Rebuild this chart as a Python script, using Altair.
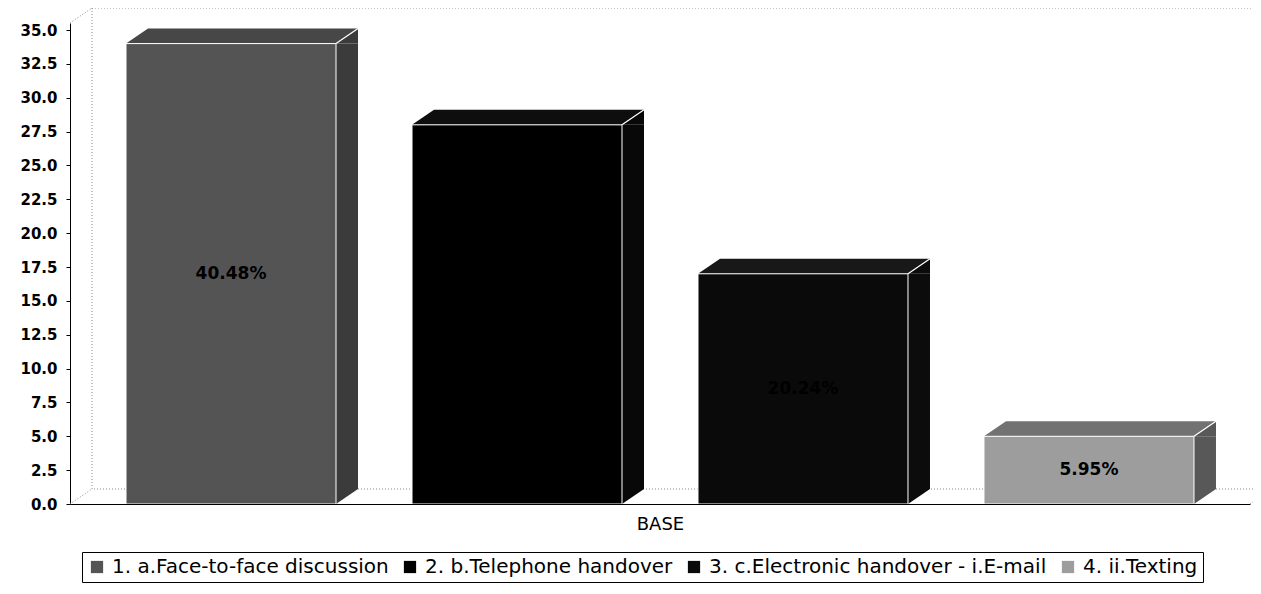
import altair as alt
import pandas as pd

# ---- data ----
series = [
    "1. a.Face-to-face discussion",
    "2. b.Telephone handover",
    "3. c.Electronic handover - i.E-mail",
    "4. ii.Texting",
]
values = [34, 28, 17, 5]
pct_labels = ["40.48%", "33.33%", "20.24%", "5.95%"]
category = "BASE"
y_ticks = [0.0, 2.5, 5.0, 7.5, 10.0, 12.5, 15.0, 17.5, 20.0, 22.5, 25.0, 27.5, 30.0, 32.5, 35.0]

# ---- styles ----
front_colors = ["#545454", "#000000", "#0a0a0a", "#9d9d9d"]
top_colors = ["#474747", "#0e0e0e", "#181818", "#727272"]
side_colors = ["#3b3b3b", "#080808", "#0c0c0c", "#585858"]

W, H = 1180, 481
DX, DY = 22, 15          # 3D depth offset (pixels)
BARW = 210               # front face width (pixels)
PAD_OUTER = 0.063
Y_MAX = 35.52
FONT = "DejaVu Sans"

df = pd.DataFrame({"series": series, "value": values, "label": pct_labels})

x_enc = alt.X(
    "series:N",
    sort=series,
    scale=alt.Scale(paddingInner=0, paddingOuter=PAD_OUTER),
    axis=alt.Axis(
        labels=False, ticks=False, domain=True, domainColor="black", domainWidth=1,
        title=category, titleFont=FONT, titleFontSize=18, titleFontWeight="normal",
        titleColor="black", titlePadding=11, zindex=1,
    ),
)
y_scale = alt.Scale(domain=[0, Y_MAX], nice=False, zero=True)
y_axis = alt.Axis(
    values=y_ticks, format=".1f", labelFont=FONT, labelFontWeight="bold",
    labelFontSize=15, labelColor="black", tickColor="black", tickSize=4,
    labelPadding=9, domainColor="black", grid=False, title=None,
)
y_enc = alt.Y("value:Q", scale=y_scale, axis=y_axis)

base = alt.Chart(df)

# ---- back walls (dotted) ----
one = alt.Data(values=[{"k": 1}])
wall = alt.Chart(one).mark_rect(
    fillOpacity=0, stroke="#8a8a8a", strokeDash=[1, 2], strokeWidth=1,
    xOffset=DX, x2Offset=DX, yOffset=-DY, y2Offset=-DY,
).encode(x=alt.value(0), x2=alt.value(W), y=alt.value(0), y2=alt.value(H))
diag_tl = alt.Chart(one).mark_rule(stroke="#8a8a8a", strokeDash=[1, 2]).encode(
    x=alt.value(0), y=alt.value(0), x2=alt.value(DX), y2=alt.value(-DY))
diag_bl = alt.Chart(one).mark_rule(stroke="#8a8a8a", strokeDash=[1, 2]).encode(
    x=alt.value(0), y=alt.value(H), x2=alt.value(DX), y2=alt.value(H - DY))
diag_br = alt.Chart(one).mark_rule(stroke="#8a8a8a", strokeDash=[1, 2]).encode(
    x=alt.value(W), y=alt.value(H), x2=alt.value(W + DX), y2=alt.value(H - DY))

# ---- 3D side faces ----
side_off = BARW / 2 + DX / 2
ry = (DY / 2) / (DX / 2)
side_fill = alt.Fill("series:N", scale=alt.Scale(domain=series, range=side_colors), legend=None)
top_fill = alt.Fill("series:N", scale=alt.Scale(domain=series, range=top_colors), legend=None)

side_rect = base.mark_bar(width=DX, xOffset=side_off, y2Offset=-DY).encode(
    x=x_enc, y=y_enc, y2=alt.Y2(datum=0), fill=side_fill)

side_top = base.mark_point(
    shape=f"M-1,{ry:.4f} L1,{-ry:.4f} L1,{ry:.4f} Z", size=DX * DX, filled=True,
    opacity=1, xOffset=side_off, yOffset=-DY / 2,
).encode(x=x_enc, y=y_enc, fill=side_fill)

side_bot = base.mark_point(
    shape=f"M-1,{-ry:.4f} L-1,{ry:.4f} L1,{-ry:.4f} Z", size=DX * DX, filled=True,
    opacity=1, xOffset=side_off, yOffset=-DY / 2,
).encode(x=x_enc, y=alt.Y(datum=0, scale=y_scale, axis=y_axis), fill=side_fill)

# ---- 3D top faces (parallelograms) ----
half = (BARW + DX) / 2
a = (BARW / 2 - DX / 2) / half
b = (DY / 2) / half
top_path = f"M-1,{b:.4f} L{a:.4f},{b:.4f} L1,{-b:.4f} L{-a:.4f},{-b:.4f} Z"
top_face = base.mark_point(
    shape=top_path, size=(2 * half) ** 2, filled=True, opacity=1,
    xOffset=DX / 2, yOffset=-DY / 2,
).encode(x=x_enc, y=y_enc, fill=top_fill)

# ---- front faces ----
front = base.mark_bar(width=BARW, stroke="white", strokeWidth=1).encode(
    x=x_enc, y=y_enc, y2=alt.Y2(datum=0),
    color=alt.Color(
        "series:N",
        scale=alt.Scale(domain=series, range=front_colors),
        legend=alt.Legend(
            orient="none", legendX=12, legendY=529, direction="horizontal", columns=4,
            title=None, symbolType="square", symbolSize=150, symbolStrokeWidth=0,
            labelFont=FONT, labelFontSize=20, labelColor="black", labelLimit=0,
            strokeColor="black", fillColor="white", padding=5, columnPadding=11,
            labelOffset=5,
        ),
    ),
)

edge = base.mark_point(
    shape=f"M-1,{ry:.4f} L1,{-ry:.4f}", size=DX * DX, filled=False, opacity=1,
    stroke="white", strokeWidth=1.2, xOffset=side_off, yOffset=-DY / 2,
).encode(x=x_enc, y=y_enc)

labels = base.transform_calculate(mid="datum.value / 2").mark_text(
    font=FONT, fontWeight="bold", fontSize=17, color="#000000",
    align="center", baseline="middle",
).encode(x=x_enc, y=alt.Y("mid:Q", scale=y_scale, axis=y_axis), text="label:N")

chart = alt.layer(
    wall, diag_tl, diag_bl, diag_br,
    side_rect, side_top, side_bot, top_face, front, edge, labels,
).resolve_scale(fill="independent").properties(
    width=W, height=H,
    autosize=alt.AutoSizeParams(type="none"),
    padding={"left": 62, "top": 15, "right": 3, "bottom": 82},
).configure_view(strokeWidth=0)

chart.save("out.html", embed_options={"renderer": "svg", "actions": False})
